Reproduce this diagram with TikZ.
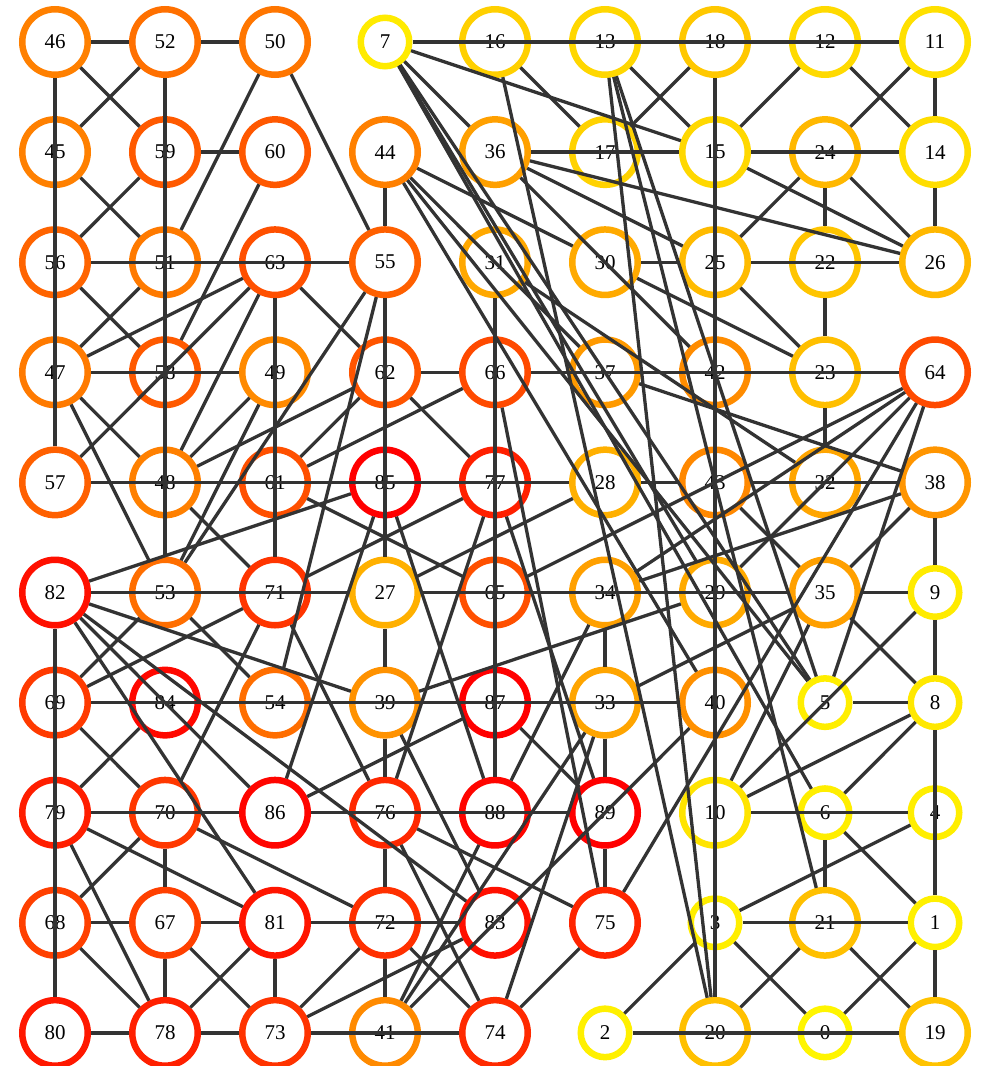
\documentclass[tikz,border=0pt]{standalone}
\usepackage{fontspec}
\setmainfont{Liberation Serif}
\tikzset{
 nd/.style={circle, draw={rgb,255:red,255;green,#1;blue,0}, line width=6.5pt, fill=white, minimum size=65.5pt, inner sep=0pt, font=\fontsize{21}{21}\selectfont},
 sn/.style={nd=#1, minimum size=48.5pt},
 ed/.style={draw={rgb,255:red,51;green,51;blue,51}, line width=3.3pt},
}
\newcommand\nn[4]{\node[nd=#4] (n#1) at ({55+110*#2},{42+110.1*#3}) {#1};}
\newcommand\ns[4]{\node[sn=#4] (n#1) at ({55+110*#2},{42+110.1*#3}) {#1};}
\begin{document}
\begin{tikzpicture}[x=1pt,y=-1pt]
\fill[white] (0,0) rectangle (985,1066);
\useasboundingbox (0,0) rectangle (985,1066);
% row 0
\nn{46}{0}{0}{128}\nn{52}{1}{0}{112}\nn{50}{2}{0}{118}\ns{7}{3}{0}{235}\nn{16}{4}{0}{208}\nn{13}{5}{0}{215}\nn{18}{6}{0}{200}\nn{12}{7}{0}{218}\nn{11}{8}{0}{224}
% row 1
\nn{45}{0}{1}{128}\nn{59}{1}{1}{90}\nn{60}{2}{1}{88}\nn{44}{3}{1}{128}\nn{36}{4}{1}{160}\nn{17}{5}{1}{210}\nn{15}{6}{1}{216}\nn{24}{7}{1}{184}\nn{14}{8}{1}{221}
% row 2
\nn{56}{0}{2}{100}\nn{51}{1}{2}{122}\nn{63}{2}{2}{80}\nn{55}{3}{2}{96}\nn{31}{4}{2}{168}\nn{30}{5}{2}{170}\nn{25}{6}{2}{187}\nn{22}{7}{2}{197}\nn{26}{8}{2}{184}
% row 3
\nn{47}{0}{3}{122}\nn{58}{1}{3}{90}\nn{49}{2}{3}{138}\nn{62}{3}{3}{85}\nn{66}{4}{3}{74}\nn{37}{5}{3}{154}\nn{42}{6}{3}{140}\nn{23}{7}{3}{191}\nn{64}{8}{3}{74}
% row 4
\nn{57}{0}{4}{96}\nn{48}{1}{4}{128}\nn{61}{2}{4}{80}\nn{85}{3}{4}{0}\nn{77}{4}{4}{32}\nn{28}{5}{4}{176}\nn{43}{6}{4}{136}\nn{32}{7}{4}{165}\nn{38}{8}{4}{149}
% row 5
\nn{82}{0}{5}{16}\nn{53}{1}{5}{110}\nn{71}{2}{5}{53}\nn{27}{3}{5}{176}\nn{65}{4}{5}{80}\nn{34}{5}{5}{160}\nn{29}{6}{5}{170}\nn{35}{7}{5}{160}\ns{9}{8}{5}{235}
% row 6
\nn{69}{0}{6}{58}\nn{84}{1}{6}{8}\nn{54}{2}{6}{110}\nn{39}{3}{6}{146}\nn{87}{4}{6}{0}\nn{33}{5}{6}{165}\nn{40}{6}{6}{144}\ns{5}{7}{6}{238}\ns{8}{8}{6}{232}
% row 7
\nn{79}{0}{7}{30}\nn{70}{1}{7}{56}\nn{86}{2}{7}{5}\nn{76}{3}{7}{40}\nn{88}{4}{7}{5}\nn{89}{5}{7}{0}\nn{10}{6}{7}{228}\ns{6}{7}{7}{238}\ns{4}{8}{7}{238}
% row 8
\nn{68}{0}{8}{64}\nn{67}{1}{8}{64}\nn{81}{2}{8}{21}\nn{72}{3}{8}{48}\nn{83}{4}{8}{16}\nn{75}{5}{8}{37}\ns{3}{6}{8}{238}\nn{21}{7}{8}{192}\ns{1}{8}{8}{240}
% row 9
\nn{80}{0}{9}{24}\nn{78}{1}{9}{32}\nn{73}{2}{9}{51}\nn{41}{3}{9}{138}\nn{74}{4}{9}{42}\ns{2}{5}{9}{240}\nn{20}{6}{9}{192}\ns{0}{7}{9}{245}\nn{19}{8}{9}{195}
% edges
\foreach \a/\b in {46/52, 52/50, 46/59, 52/45, 46/57, 52/53, 59/60, 50/51, 50/55, 45/51, 59/56, 60/58, 57/63, 47/49, 56/58, 51/47, 63/47, 63/48, 47/48, 47/53, 49/48, 49/53, 48/62, 57/28, 63/71, 61/62, 61/66, 61/65, 48/71, 82/85, 56/55, 63/62, 44/55, 55/27, 55/53, 54/55,
82/27, 82/80, 82/39, 82/83, 82/86, 82/81,
53/69, 53/54, 71/69, 71/70, 71/76, 71/77, 69/40, 69/70, 84/79, 85/86, 86/87, 79/86, 86/89,
79/81, 79/78, 70/68, 70/67, 70/72, 68/67, 67/81, 81/83, 68/78, 67/78, 67/73, 81/78, 81/73, 80/78, 78/73, 73/74, 72/73, 73/83,
39/76, 76/72, 72/41, 27/39, 76/74, 76/75, 39/83, 72/74, 2/3, 75/74, 41/88, 40/41, 87/89,
7/11, 7/15, 7/36, 16/17, 16/20, 13/20, 18/20, 13/15, 18/17, 36/15, 15/14, 12/15, 12/14, 11/24, 11/14, 14/26, 15/26, 24/26, 24/25, 24/22, 25/26, 36/26, 36/25, 25/23, 22/23, 44/30, 30/23, 30/25,
62/66, 66/64, 31/88, 62/77, 66/75, 77/76, 85/88,
27/35, 35/9, 35/8, 9/10, 8/5, 8/10, 8/6, 5/64, 35/38, 35/10, 35/33,
10/4, 6/21, 6/1, 38/9, 9/8, 8/1, 1/19, 4/3, 3/1, 21/20, 21/19, 3/0, 1/0, 2/19,
64/75, 65/64, 23/32, 28/43, 43/38, 37/38, 43/35, 34/33, 33/89, 89/75, 28/27, 34/64, 34/38,
7/5, 7/6, 7/29, 44/37, 44/40, 44/5, 36/42, 31/32, 13/21, 77/89, 33/41, 33/74,
39/29, 34/88, 64/29, 13/5}
 \draw[ed] (n\a) -- (n\b);
\end{tikzpicture}
\end{document}
